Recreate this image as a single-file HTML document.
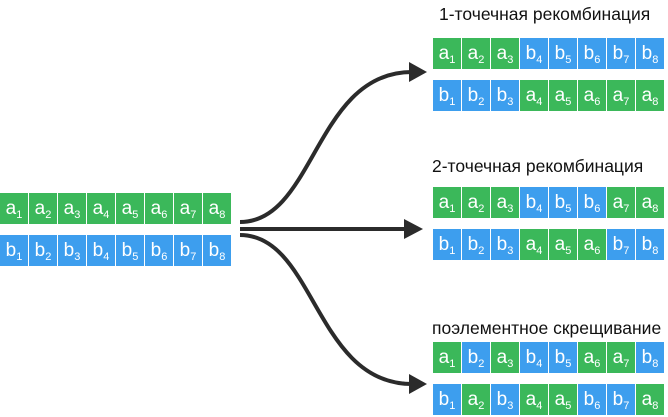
<!DOCTYPE html>
<html><head><meta charset="utf-8"><style>
body{margin:0;width:668px;height:417px;background:#fff;position:relative;overflow:hidden;font-family:"Liberation Sans","DejaVu Sans",sans-serif}
.r{position:absolute;display:flex;height:31px}
.r div{width:28px;margin-right:1px;height:31px;color:#fff;font-size:19px;line-height:31px;text-align:center}
.g{background:#3bb85a}.b{background:#3d9eee}
sub{font-size:11px;vertical-align:-4px;line-height:0}
.t{position:absolute;font-size:17.5px;color:#111;white-space:nowrap}
svg{position:absolute;left:0;top:0}
</style></head><body>
<div class="r" style="left:0;top:193px"><div class="g">a<sub>1</sub></div><div class="g">a<sub>2</sub></div><div class="g">a<sub>3</sub></div><div class="g">a<sub>4</sub></div><div class="g">a<sub>5</sub></div><div class="g">a<sub>6</sub></div><div class="g">a<sub>7</sub></div><div class="g">a<sub>8</sub></div></div>
<div class="r" style="left:0;top:235px"><div class="b">b<sub>1</sub></div><div class="b">b<sub>2</sub></div><div class="b">b<sub>3</sub></div><div class="b">b<sub>4</sub></div><div class="b">b<sub>5</sub></div><div class="b">b<sub>6</sub></div><div class="b">b<sub>7</sub></div><div class="b">b<sub>8</sub></div></div>

<div class="t" style="left:439px;top:4px">1-точечная рекомбинация</div>
<div class="r" style="left:433px;top:38px"><div class="g">a<sub>1</sub></div><div class="g">a<sub>2</sub></div><div class="g">a<sub>3</sub></div><div class="b">b<sub>4</sub></div><div class="b">b<sub>5</sub></div><div class="b">b<sub>6</sub></div><div class="b">b<sub>7</sub></div><div class="b">b<sub>8</sub></div></div>
<div class="r" style="left:433px;top:80px"><div class="b">b<sub>1</sub></div><div class="b">b<sub>2</sub></div><div class="b">b<sub>3</sub></div><div class="g">a<sub>4</sub></div><div class="g">a<sub>5</sub></div><div class="g">a<sub>6</sub></div><div class="g">a<sub>7</sub></div><div class="g">a<sub>8</sub></div></div>

<div class="t" style="left:432px;top:156px">2-точечная рекомбинация</div>
<div class="r" style="left:433px;top:187px"><div class="g">a<sub>1</sub></div><div class="g">a<sub>2</sub></div><div class="g">a<sub>3</sub></div><div class="b">b<sub>4</sub></div><div class="b">b<sub>5</sub></div><div class="b">b<sub>6</sub></div><div class="g">a<sub>7</sub></div><div class="g">a<sub>8</sub></div></div>
<div class="r" style="left:433px;top:229px"><div class="b">b<sub>1</sub></div><div class="b">b<sub>2</sub></div><div class="b">b<sub>3</sub></div><div class="g">a<sub>4</sub></div><div class="g">a<sub>5</sub></div><div class="g">a<sub>6</sub></div><div class="b">b<sub>7</sub></div><div class="b">b<sub>8</sub></div></div>

<div class="t" style="left:432px;top:318px">поэлементное скрещивание</div>
<div class="r" style="left:433px;top:342px"><div class="g">a<sub>1</sub></div><div class="b">b<sub>2</sub></div><div class="g">a<sub>3</sub></div><div class="b">b<sub>4</sub></div><div class="b">b<sub>5</sub></div><div class="g">a<sub>6</sub></div><div class="g">a<sub>7</sub></div><div class="b">b<sub>8</sub></div></div>
<div class="r" style="left:433px;top:384px"><div class="b">b<sub>1</sub></div><div class="g">a<sub>2</sub></div><div class="b">b<sub>3</sub></div><div class="g">a<sub>4</sub></div><div class="g">a<sub>5</sub></div><div class="b">b<sub>6</sub></div><div class="b">b<sub>7</sub></div><div class="g">a<sub>8</sub></div></div>

<svg width="668" height="417">
<g fill="none" stroke="#2b2b2b" stroke-width="4">
<path d="M240,222 C315,222 315,72 412,72"/>
<path d="M240,229 L406,229"/>
<path d="M240,235 C315,235 315,384 412,384"/>
</g>
<g fill="#2b2b2b">
<path d="M409,62 L427,72 L409,82Z"/>
<path d="M404,219 L423,229 L404,239Z"/>
<path d="M409,374 L427,384 L409,394Z"/>
</g>
</svg>
</body></html>
